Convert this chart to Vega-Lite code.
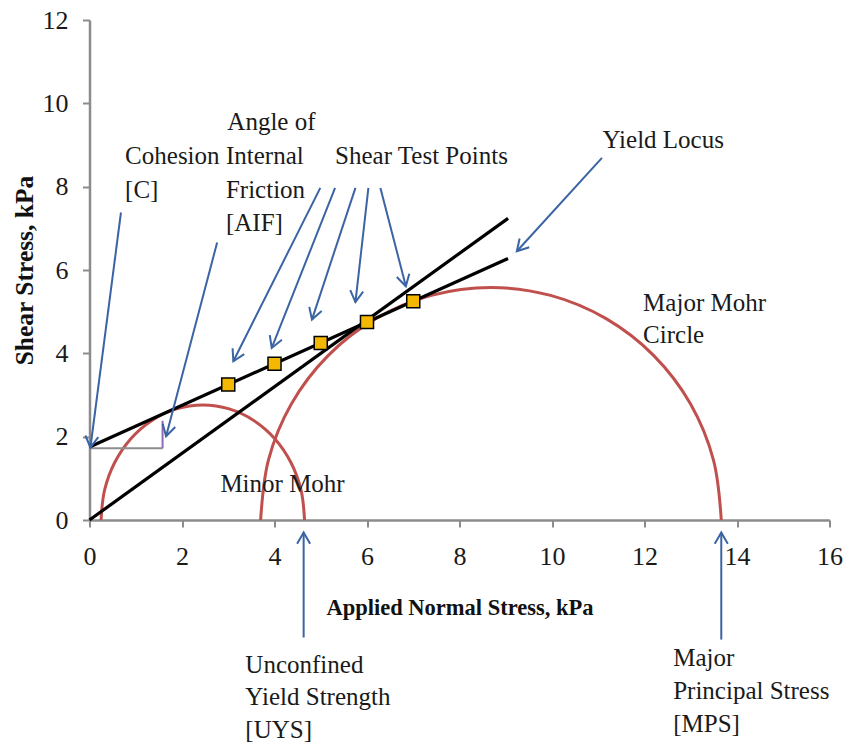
{
  "$schema": "https://vega.github.io/schema/vega-lite/v6.json",
  "width": 740,
  "height": 500,
  "autosize": {"type": "none"},
  "padding": {"left": 89.5, "top": 20, "right": 15.5, "bottom": 229},
  "background": "white",
  "config": {"view": {"stroke": null}, "font": "Liberation Serif"},
  "datasets": {
    "circles": [
      {"circle": "minor", "i": 0, "x": 0.25, "y": 0},
      {"circle": "minor", "i": 1, "x": 0.325, "y": 0.714},
      {"circle": "minor", "i": 2, "x": 0.545, "y": 1.38},
      {"circle": "minor", "i": 3, "x": 0.894, "y": 1.952},
      {"circle": "minor", "i": 4, "x": 1.35, "y": 2.39},
      {"circle": "minor", "i": 5, "x": 1.881, "y": 2.666},
      {"circle": "minor", "i": 6, "x": 2.45, "y": 2.76},
      {"circle": "minor", "i": 7, "x": 3.019, "y": 2.666},
      {"circle": "minor", "i": 8, "x": 3.55, "y": 2.39},
      {"circle": "minor", "i": 9, "x": 4.006, "y": 1.952},
      {"circle": "minor", "i": 10, "x": 4.355, "y": 1.38},
      {"circle": "minor", "i": 11, "x": 4.575, "y": 0.714},
      {"circle": "minor", "i": 12, "x": 4.65, "y": 0},
      {"circle": "major", "i": 0, "x": 3.7, "y": 0},
      {"circle": "major", "i": 1, "x": 3.87, "y": 1.444},
      {"circle": "major", "i": 2, "x": 4.367, "y": 2.79},
      {"circle": "major", "i": 3, "x": 5.159, "y": 3.946},
      {"circle": "major", "i": 4, "x": 6.19, "y": 4.832},
      {"circle": "major", "i": 5, "x": 7.391, "y": 5.39},
      {"circle": "major", "i": 6, "x": 8.68, "y": 5.58},
      {"circle": "major", "i": 7, "x": 9.969, "y": 5.39},
      {"circle": "major", "i": 8, "x": 11.17, "y": 4.832},
      {"circle": "major", "i": 9, "x": 12.201, "y": 3.946},
      {"circle": "major", "i": 10, "x": 12.993, "y": 2.79},
      {"circle": "major", "i": 11, "x": 13.49, "y": 1.444},
      {"circle": "major", "i": 12, "x": 13.66, "y": 0}
    ],
    "locus": [
      {"line": "yield locus", "x": 0, "y": 1.75, "x2": 9.05, "y2": 6.275},
      {"line": "origin tangent", "x": 0, "y": 0, "x2": 9.05, "y2": 7.24}
    ],
    "bracket": [
      {"part": "base", "x": 0, "y": 1.72, "x2": 1.58, "y2": 1.72},
      {"part": "rise", "x": 1.58, "y": 1.72, "x2": 1.58, "y2": 2.38}
    ],
    "points": [
      {"x": 3, "y": 3.25},
      {"x": 4, "y": 3.75},
      {"x": 5, "y": 4.25},
      {"x": 6, "y": 4.75},
      {"x": 7, "y": 5.25}
    ],
    "shafts": [
      {"arrow": "c", "x": 0.68, "y": 7.38, "x2": 0.02, "y2": 1.74},
      {"arrow": "aif", "x": 2.76, "y": 6.66, "x2": 1.656, "y2": 2.01},
      {"arrow": "s1", "x": 4.99, "y": 7.97, "x2": 3.11, "y2": 3.81},
      {"arrow": "s2", "x": 5.31, "y": 7.97, "x2": 3.94, "y2": 4.13},
      {"arrow": "s3", "x": 5.75, "y": 7.97, "x2": 4.81, "y2": 4.81},
      {"arrow": "s4", "x": 6.03, "y": 7.97, "x2": 5.75, "y2": 5.23},
      {"arrow": "s5", "x": 6.29, "y": 7.97, "x2": 6.84, "y2": 5.61},
      {"arrow": "yl", "x": 11.08, "y": 8.69, "x2": 9.24, "y2": 6.45},
      {"arrow": "uys", "x": 4.63, "y": -2.82, "x2": 4.63, "y2": -0.3},
      {"arrow": "mps", "x": 13.66, "y": -2.87, "x2": 13.66, "y2": -0.3}
    ],
    "heads": [
      {"arrow": "c", "i": 0, "x": 0.19, "y": 1.988},
      {"arrow": "c", "i": 1, "x": 0.02, "y": 1.74},
      {"arrow": "c", "i": 2, "x": -0.089, "y": 2.028},
      {"arrow": "aif", "i": 0, "x": 1.854, "y": 2.233},
      {"arrow": "aif", "i": 1, "x": 1.656, "y": 2.01},
      {"arrow": "aif", "i": 2, "x": 1.582, "y": 2.312},
      {"arrow": "s1", "i": 0, "x": 3.345, "y": 3.983},
      {"arrow": "s1", "i": 1, "x": 3.11, "y": 3.81},
      {"arrow": "s1", "i": 2, "x": 3.094, "y": 4.122},
      {"arrow": "s2", "i": 0, "x": 4.16, "y": 4.324},
      {"arrow": "s2", "i": 1, "x": 3.94, "y": 4.13},
      {"arrow": "s2", "i": 2, "x": 3.898, "y": 4.439},
      {"arrow": "s3", "i": 0, "x": 5.019, "y": 5.017},
      {"arrow": "s3", "i": 1, "x": 4.81, "y": 4.81},
      {"arrow": "s3", "i": 2, "x": 4.752, "y": 5.115},
      {"arrow": "s4", "i": 0, "x": 5.917, "y": 5.48},
      {"arrow": "s4", "i": 1, "x": 5.75, "y": 5.23},
      {"arrow": "s4", "i": 2, "x": 5.638, "y": 5.515},
      {"arrow": "s5", "i": 0, "x": 6.915, "y": 5.911},
      {"arrow": "s5", "i": 1, "x": 6.84, "y": 5.61},
      {"arrow": "s5", "i": 2, "x": 6.643, "y": 5.833},
      {"arrow": "yl", "i": 0, "x": 9.508, "y": 6.545},
      {"arrow": "yl", "i": 1, "x": 9.24, "y": 6.45},
      {"arrow": "yl", "i": 2, "x": 9.3, "y": 6.755},
      {"arrow": "uys", "i": 0, "x": 4.489, "y": -0.57},
      {"arrow": "uys", "i": 1, "x": 4.63, "y": -0.3},
      {"arrow": "uys", "i": 2, "x": 4.771, "y": -0.57},
      {"arrow": "mps", "i": 0, "x": 13.519, "y": -0.57},
      {"arrow": "mps", "i": 1, "x": 13.66, "y": -0.3},
      {"arrow": "mps", "i": 2, "x": 13.801, "y": -0.57}
    ],
    "labels": [
      {"label": "Cohesion", "x": 0.77, "y": 8.555},
      {"label": "[C]", "x": 0.77, "y": 7.74},
      {"label": "Angle of", "x": 2.98, "y": 9.35},
      {"label": "Internal", "x": 2.95, "y": 8.555},
      {"label": "Friction", "x": 2.95, "y": 7.74},
      {"label": "[AIF]", "x": 2.95, "y": 6.925},
      {"label": "Shear Test Points", "x": 5.31, "y": 8.555},
      {"label": "Yield Locus", "x": 11.09, "y": 8.94},
      {"label": "Major Mohr", "x": 11.97, "y": 5.01},
      {"label": "Circle", "x": 11.97, "y": 4.24},
      {"label": "Minor Mohr", "x": 2.83, "y": 0.68},
      {"label": "Unconfined", "x": 3.37, "y": -3.66},
      {"label": "Yield Strength", "x": 3.37, "y": -4.44},
      {"label": "[UYS]", "x": 3.37, "y": -5.22},
      {"label": "Major", "x": 12.62, "y": -3.51},
      {"label": "Principal Stress", "x": 12.62, "y": -4.3},
      {"label": "[MPS]", "x": 12.62, "y": -5.09}
    ]
  },
  "encoding": {
    "x": {
      "field": "x",
      "type": "quantitative",
      "scale": {"domain": [0, 16], "nice": false, "zero": false},
      "axis": {
        "title": "Applied Normal Stress, kPa",
        "values": [0, 2, 4, 6, 8, 10, 12, 14, 16],
        "grid": false,
        "domainColor": "#8c8c8c",
        "domainWidth": 2.5,
        "tickColor": "#8c8c8c",
        "tickWidth": 2,
        "tickSize": 7,
        "labelFont": "Liberation Serif",
        "labelFontSize": 26,
        "labelColor": "#1a1a1a",
        "labelBaseline": "alphabetic",
        "labelPadding": 37.5,
        "labelFlush": false,
        "labelOverlap": false,
        "titleFont": "Liberation Serif",
        "titleFontSize": 22.5,
        "titleFontWeight": "bold",
        "titleColor": "#111111",
        "titleY": 94,
        "titleBaseline": "alphabetic"
      }
    },
    "y": {
      "field": "y",
      "type": "quantitative",
      "scale": {"domain": [0, 12], "nice": false, "zero": false},
      "axis": {
        "title": "Shear Stress, kPa",
        "values": [0, 2, 4, 6, 8, 10, 12],
        "grid": false,
        "domainColor": "#8c8c8c",
        "domainWidth": 2.5,
        "tickColor": "#8c8c8c",
        "tickWidth": 2,
        "tickSize": 7,
        "labelFont": "Liberation Serif",
        "labelFontSize": 26,
        "labelColor": "#1a1a1a",
        "labelBaseline": "middle",
        "labelPadding": 14.5,
        "labelFlush": false,
        "labelOverlap": false,
        "titleFont": "Liberation Serif",
        "titleFontSize": 25.5,
        "titleFontWeight": "bold",
        "titleColor": "#111111",
        "titleAngle": -90,
        "titleX": -57.5,
        "titleY": 250,
        "titleAlign": "center",
        "titleBaseline": "alphabetic"
      }
    }
  },
  "layer": [
    {
      "data": {"name": "circles"},
      "mark": {"type": "line", "color": "#C0504D", "strokeWidth": 3, "interpolate": "catmull-rom"},
      "encoding": {"detail": {"field": "circle"}, "order": {"field": "i", "type": "quantitative"}}
    },
    {
      "data": {"name": "bracket"},
      "mark": {"type": "rule", "strokeWidth": 2},
      "encoding": {
        "x2": {"field": "x2"},
        "y2": {"field": "y2"},
        "color": {"field": "part", "type": "nominal", "scale": {"domain": ["base", "rise"], "range": ["#8c8c8c", "#8e6bb5"]}, "legend": null}
      }
    },
    {
      "data": {"name": "locus"},
      "mark": {"type": "rule", "color": "#000000", "strokeWidth": 3.2},
      "encoding": {"x2": {"field": "x2"}, "y2": {"field": "y2"}}
    },
    {
      "data": {"name": "points"},
      "mark": {"type": "point", "shape": "square", "filled": true, "fill": "#F5B800", "stroke": "#000000", "strokeWidth": 1.5, "size": 170, "opacity": 1},
      "encoding": {}
    },
    {
      "data": {"name": "shafts"},
      "mark": {"type": "rule", "color": "#3A64A3", "strokeWidth": 2},
      "encoding": {"x2": {"field": "x2"}, "y2": {"field": "y2"}}
    },
    {
      "data": {"name": "heads"},
      "mark": {"type": "line", "color": "#3A64A3", "strokeWidth": 2},
      "encoding": {"detail": {"field": "arrow"}, "order": {"field": "i", "type": "quantitative"}}
    },
    {
      "data": {"name": "labels"},
      "mark": {"type": "text", "align": "left", "baseline": "alphabetic", "font": "Liberation Serif", "fontSize": 25, "color": "#1a1a1a"},
      "encoding": {"text": {"field": "label"}}
    }
  ]
}
